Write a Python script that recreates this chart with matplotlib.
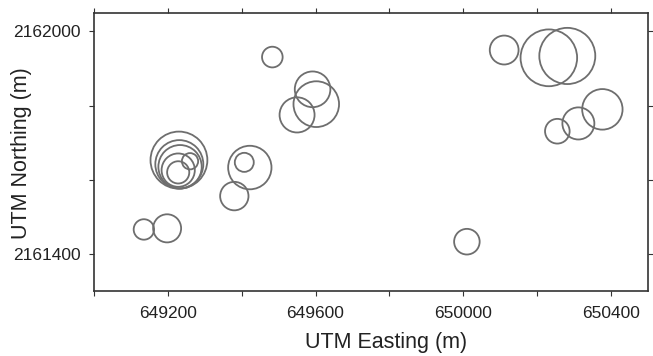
#!/usr/bin/env python3
"""
Circles of varying radius at UTM positions (easting / northing).
"""
import matplotlib
matplotlib.use('Agg')
import matplotlib.pyplot as plt
from matplotlib.patches import Circle

# Data (metres)
EASTING = [650010, 650111, 650232, 650282, 650255, 650312, 650377,
           649483, 649592, 649602, 649550,
           649135, 649198, 649422, 649407, 649380,
           649230, 649231, 649233, 649228, 649228, 649260]
NORTHING = [2161433, 2161950, 2161929, 2161934, 2161731, 2161752, 2161790,
            2161931, 2161844, 2161804, 2161775,
            2161466, 2161469, 2161633, 2161647, 2161556,
            2161653, 2161642, 2161635, 2161626, 2161620, 2161650]
RADIUS = [34.6, 39, 76.6, 75.8, 33.3, 43.3, 54.7,
          27.9, 48.2, 61.7, 47.4,
          27.6, 37.9, 58.7, 25.7, 38.4,
          77, 65, 58.7, 45, 30, 22]

X_TICKS = [649000, 649200, 649400, 649600, 649800, 650000, 650200, 650400]
X_TICK_LABELS = ['', '649200', '', '649600', '', '650000', '', '650400']
Y_TICKS = [2161400, 2161600, 2161800, 2162000]
Y_TICK_LABELS = ['2161400', '', '', '2162000']

# Styling
TEXT_COLOR = '#222222'
SPINE_COLOR = '#333333'
CIRCLE_COLOR = '#6e6e6e'

plt.rcParams['font.family'] = ['Liberation Sans', 'DejaVu Sans']

fig = plt.figure(figsize=(6.53, 3.56), dpi=100, facecolor='white')
ax = fig.add_axes([0.144, 0.1826, 0.848, 0.781])

for x, y, r in zip(EASTING, NORTHING, RADIUS):
    ax.add_patch(Circle((x, y), r, fill=False, edgecolor=CIRCLE_COLOR, linewidth=1.3))

ax.set_xlim(649000, 650500)
ax.set_ylim(2161300, 2162050)

ax.set_xticks(X_TICKS)
ax.set_xticklabels(X_TICK_LABELS)
ax.set_yticks(Y_TICKS)
ax.set_yticklabels(Y_TICK_LABELS)

ax.tick_params(axis='both', direction='out', length=3.6, width=0.8,
               color=SPINE_COLOR, labelsize=12.5, labelcolor=TEXT_COLOR,
               top=True, right=True)
ax.tick_params(axis='x', pad=7)
ax.tick_params(axis='y', pad=6)

for spine in ax.spines.values():
    spine.set_color(SPINE_COLOR)
    spine.set_linewidth(1.2)

ax.set_xlabel('UTM Easting (m)', fontsize=15.5, color=TEXT_COLOR)
ax.set_ylabel('UTM Northing (m)', fontsize=15.5, color=TEXT_COLOR)
ax.xaxis.set_label_coords(0.527, -0.147)
ax.yaxis.set_label_coords(-0.112, 0.495)

fig.savefig('out.png', dpi=100, facecolor='white')
